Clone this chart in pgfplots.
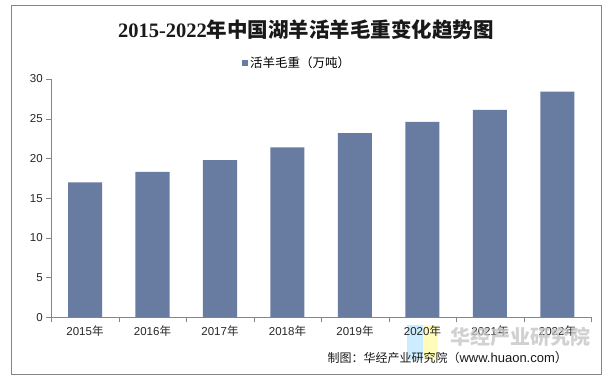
\documentclass[border=0pt]{standalone}
\usepackage{fontspec}
\setmainfont{Liberation Sans}
\newfontfamily\cjkfont{Noto Sans CJK SC}
\newfontfamily\serifnum{Liberation Serif}
\usepackage{pgfplots}
\pgfplotsset{compat=1.18}
\definecolor{barc}{HTML}{687BA0}
\definecolor{axc}{HTML}{868686}
\newcommand\cj[1]{{\cjkfont #1}}
\begin{document}
\begin{tikzpicture}[x=1pt,y=1pt]
\useasboundingbox (0,0) rectangle (610,382);
\draw[axc, line width=1pt] (11,7) rectangle (601,376);
\node[font=\fontsize{20.5}{24}\selectfont\bfseries, text=black!90] at (306,352) {\serifnum 2015-2022\cjkfont 年中国湖羊活羊毛重变化趋势图};
\fill[blue!35!cyan!25, opacity=0.8] (407,22) rectangle (423,57);
\fill[yellow!35, opacity=0.8] (423,22) rectangle (438,57);
\begin{axis}[
  at={(51.25pt,64.7pt)}, anchor=south west,
  scale only axis, width=540pt, height=238.3pt,
  ybar, bar width=34pt,
  xmin=-0.5, xmax=7.5, ymin=0, ymax=30,
  enlargelimits=false,
  ytick={0,5,...,30},
  xtick={0,...,7},
  xticklabels={2015\cj{年},2016\cj{年},2017\cj{年},2018\cj{年},2019\cj{年},2020\cj{年},2021\cj{年},2022\cj{年}},
  minor xtick={-0.5,0.5,...,7.5},
  axis lines=left,
  axis line style={axc, -},
  tick align=outside,
  major tick length=5pt, minor tick length=5pt,
  major x tick style={draw=none},
  minor x tick style={axc},
  y tick style={axc},
  /pgf/number format/assume math mode=true,
  ticklabel style={font=\fontsize{11.5}{13}\selectfont, text=black!85},
  xticklabel style={font=\fontsize{11.5}{13}\selectfont},
  legend style={draw=none, at={(0.455,1.067)}, anchor=center, font=\fontsize{12.5}{14}\selectfont, inner sep=0pt},
]
\addplot[fill=barc, draw=none, legend image code/.code={\fill[barc] (0pt,-3pt) rectangle (6.5pt,3.5pt);}] coordinates {
 (0,17.0) (1,18.3) (2,19.8) (3,21.4) (4,23.2) (5,24.6) (6,26.1) (7,28.4)};
\addlegendentry{\cj{活羊毛重（万吨）}}
\end{axis}
\node[font=\cjkfont\bfseries\fontsize{20}{22}\selectfont, text=gray!45, opacity=0.8] at (520,45) {华经产业研究院};
\node[anchor=west, font=\fontsize{12}{14}\selectfont, text=black!90] at (324,24) {\cj{制图：华经产业研究院（}\fontsize{13}{14}\selectfont www.huaon.com\cj{）}};
\end{tikzpicture}
\end{document}
